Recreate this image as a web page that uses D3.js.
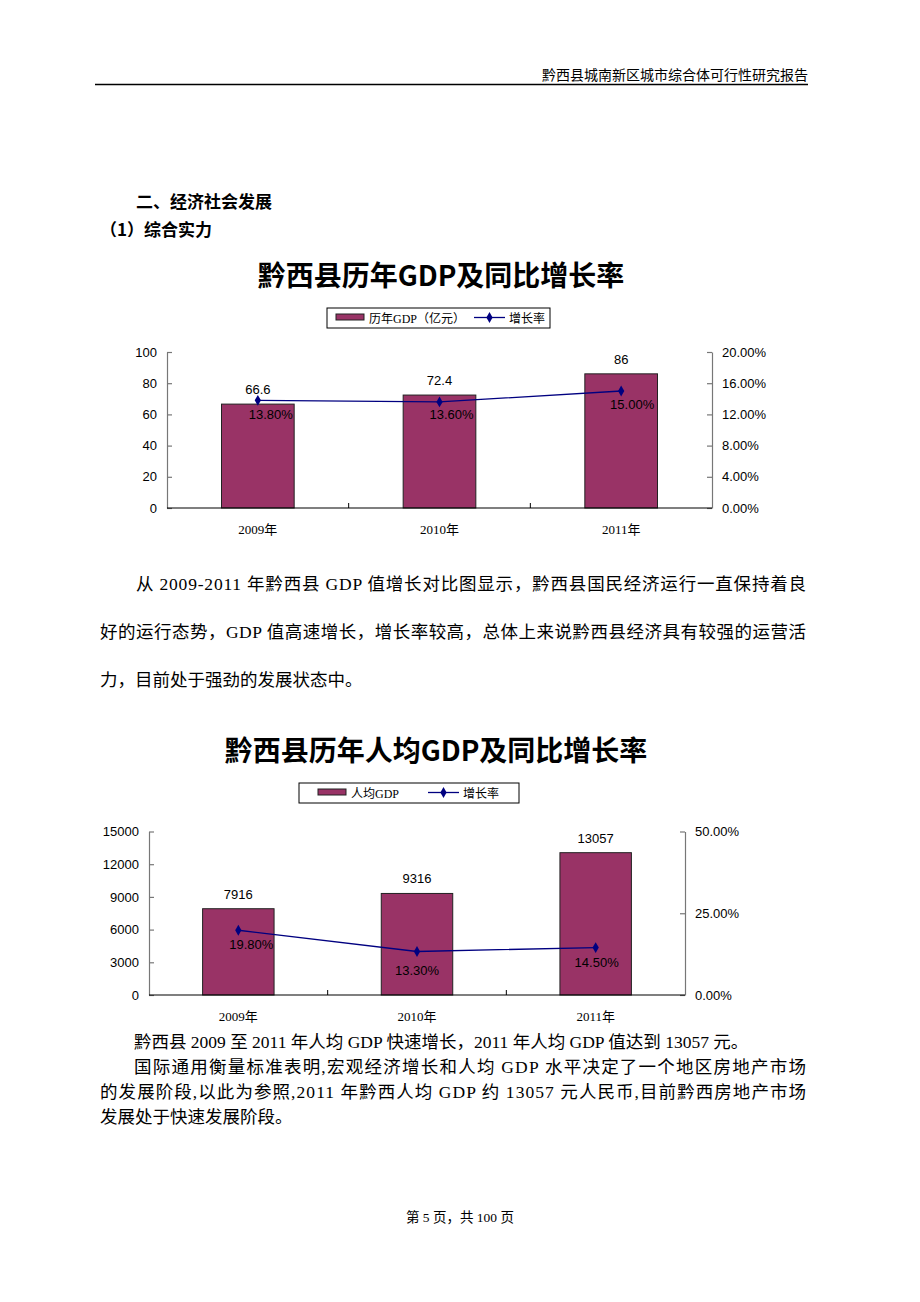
<!DOCTYPE html>
<html><head><meta charset="utf-8">
<script src="https://cdn.jsdelivr.net/npm/d3@7"></script>
<style>body{margin:0;background:#fff} svg{display:block}</style>
</head><body><svg id="page" width="920" height="1302"></svg>
<script>
// ---- data ----
const years = ["2009年", "2010年", "2011年"];
const gdp = [66.6, 72.4, 86];
const gdpRate = [0.138, 0.136, 0.150];
const gdpTicksLeft = [0, 20, 40, 60, 80, 100];
const gdpTicksRight = [0, 0.04, 0.08, 0.12, 0.16, 0.20];
const pcGdp = [7916, 9316, 13057];
const pcRate = [0.198, 0.133, 0.145];
const pcTicksLeft = [0, 3000, 6000, 9000, 12000, 15000];
const pcTicksRight = [0, 0.25, 0.50];

const SERIF = "'Liberation Serif','Noto Sans CJK SC',serif";
const SANS = "'Liberation Sans',Arial,sans-serif";
const CJKB = "'Noto Sans CJK SC',sans-serif";
const BAR = "#993366", LINE = "#000080";

const svg = d3.select("#page");
svg.append("rect").attr("width", 920).attr("height", 1302).attr("fill", "#fff");

// ---- page header ----
svg.append("text").attr("x", 808).attr("y", 80).attr("text-anchor", "end")
  .attr("font-family", SERIF).attr("font-size", 14).text("黔西县城南新区城市综合体可行性研究报告");
svg.append("line").attr("x1", 95).attr("x2", 808).attr("y1", 84.5).attr("y2", 84.5)
  .attr("stroke", "#000").attr("stroke-width", 1.5);

svg.append("text").attr("x", 136).attr("y", 208).attr("font-family", CJKB).attr("font-weight", 700)
  .attr("font-size", 17).text("二、经济社会发展");
svg.append("text").attr("x", 100).attr("y", 236).attr("font-family", CJKB).attr("font-weight", 700)
  .attr("font-size", 17).text("（1）综合实力");

function chart(cfg) {
  const g = svg.append("g");
  g.append("text").attr("x", cfg.titleX).attr("y", cfg.titleY).attr("text-anchor", "middle")
    .attr("font-family", CJKB).attr("font-weight", 700).attr("font-size", 28).text(cfg.title);

  const x = d3.scaleBand().domain(years).range([cfg.x0, cfg.x1]).paddingInner(0.6).paddingOuter(0.3);
  const yL = d3.scaleLinear().domain([0, cfg.leftMax]).range([cfg.yBot, cfg.yTop]);
  const yR = d3.scaleLinear().domain([0, cfg.rightMax]).range([cfg.yBot, cfg.yTop]);

  // bars
  g.selectAll(".bar").data(cfg.values).join("rect")
    .attr("x", (d, i) => x(years[i])).attr("width", x.bandwidth())
    .attr("y", d => yL(d)).attr("height", d => cfg.yBot - yL(d))
    .attr("fill", BAR).attr("stroke", "#222").attr("stroke-width", 1);

  // axes
  const la = g.append("g").attr("transform", `translate(${cfg.x0},0)`)
    .call(d3.axisLeft(yL).tickValues(cfg.ticksL).tickSizeInner(-5).tickSizeOuter(0).tickPadding(10)
      .tickFormat(d3.format("d")));
  const ra = g.append("g").attr("transform", `translate(${cfg.x1},0)`)
    .call(d3.axisRight(yR).tickValues(cfg.ticksR).tickSizeInner(-5).tickSizeOuter(0).tickPadding(10)
      .tickFormat(d3.format(".2%")));
  [la, ra].forEach(a => {
    a.selectAll("path,line").attr("stroke", "#777").attr("stroke-width", 1.2);
    a.selectAll("text").attr("font-family", SANS).attr("font-size", 13).attr("fill", "#000");
  });
  // category axis
  g.append("line").attr("x1", cfg.x0).attr("x2", cfg.x1).attr("y1", cfg.yBot).attr("y2", cfg.yBot)
    .attr("stroke", "#000").attr("stroke-width", 1.2);
  const step = x.step();
  g.selectAll(".ct").data(years.slice(1)).join("line")
    .attr("x1", d => x(d) - step * 0.3).attr("x2", d => x(d) - step * 0.3)
    .attr("y1", cfg.yBot).attr("y2", cfg.yBot - 5).attr("stroke", "#000");
  g.selectAll(".cl").data(years).join("text")
    .attr("x", d => x(d) + x.bandwidth() / 2).attr("y", cfg.yBot + 26).attr("text-anchor", "middle")
    .attr("font-family", SERIF).attr("font-size", 13).text(d => d);

  // value labels
  g.selectAll(".vl").data(cfg.values).join("text")
    .attr("x", (d, i) => x(years[i]) + x.bandwidth() / 2).attr("y", d => yL(d) - 10)
    .attr("text-anchor", "middle").attr("font-family", SANS).attr("font-size", 13).text(d => d);

  // line
  const cx = i => x(years[i]) + x.bandwidth() / 2;
  g.append("path").datum(cfg.rates)
    .attr("d", d3.line().x((d, i) => cx(i)).y(d => yR(d)))
    .attr("fill", "none").attr("stroke", LINE).attr("stroke-width", 1.3);
  g.selectAll(".pt").data(cfg.rates).join("path")
    .attr("transform", (d, i) => `translate(${cx(i)},${yR(d)})`)
    .attr("d", d3.symbol(d3.symbolDiamond, 34)).attr("fill", LINE);
  g.selectAll(".rl").data(cfg.rates).join("text")
    .attr("x", (d, i) => cx(i) + cfg.nudge[i][0]).attr("y", (d, i) => yR(d) + cfg.nudge[i][1])
    .attr("text-anchor", "middle").attr("font-family", SANS).attr("font-size", 13)
    .text(d => d3.format(".2%")(d));

  // legend
  const L = cfg.legend;
  g.append("rect").attr("x", L.x).attr("y", L.y).attr("width", L.w).attr("height", 20)
    .attr("fill", "#fff").attr("stroke", "#000").attr("stroke-width", 1);
  g.append("rect").attr("x", L.x + L.sw).attr("y", L.y + 6).attr("width", 28).attr("height", 6)
    .attr("fill", BAR).attr("stroke", "#222").attr("stroke-width", 1);
  g.append("text").attr("x", L.x + L.sw + 33).attr("y", L.y + 14.5).attr("font-family", SERIF)
    .attr("font-size", 12).text(cfg.legendLabel);
  g.append("line").attr("x1", L.x + L.lx).attr("x2", L.x + L.lx + 31).attr("y1", L.y + 9.5).attr("y2", L.y + 9.5)
    .attr("stroke", LINE).attr("stroke-width", 1.3);
  g.append("path").attr("transform", `translate(${L.x + L.lx + 15.5},${L.y + 9.5})`)
    .attr("d", d3.symbol(d3.symbolDiamond, 34)).attr("fill", LINE);
  g.append("text").attr("x", L.x + L.lx + 35).attr("y", L.y + 14.5).attr("font-family", SERIF)
    .attr("font-size", 12).text("增长率");
}

chart({
  title: "黔西县历年GDP及同比增长率", titleX: 441, titleY: 286,
  x0: 167, x1: 712, yTop: 352, yBot: 508, leftMax: 100, rightMax: 0.20,
  values: gdp, rates: gdpRate, ticksL: gdpTicksLeft, ticksR: gdpTicksRight,
  nudge: [[13, 19], [12, 17], [11, 18]],
  legend: { x: 327, y: 308, w: 223, sw: 9, lx: 147 }, legendLabel: "历年GDP（亿元）"
});
chart({
  title: "黔西县历年人均GDP及同比增长率", titleX: 436, titleY: 761,
  x0: 149, x1: 685, yTop: 831.5, yBot: 995, leftMax: 15000, rightMax: 0.5,
  values: pcGdp, rates: pcRate, ticksL: pcTicksLeft, ticksR: pcTicksRight,
  nudge: [[13, 19], [0, 23], [1, 19]],
  legend: { x: 299, y: 783, w: 220, sw: 19, lx: 129 }, legendLabel: "人均GDP"
});

// ---- body text ----
function line(x, y, str, x2) {
  const t = svg.append("text").attr("x", x).attr("y", y).attr("font-family", SERIF)
    .attr("font-size", 17.5).text(str);
  if (x2) t.attr("textLength", x2 - x).attr("lengthAdjust", "spacing");
}
line(136, 590, "从 2009-2011 年黔西县 GDP 值增长对比图显示，黔西县国民经济运行一直保持着良", 806);
line(100, 638, "好的运行态势，GDP 值高速增长，增长率较高，总体上来说黔西县经济具有较强的运营活", 806);
line(100, 686, "力，目前处于强劲的发展状态中。");

line(134, 1048, "黔西县 2009 至 2011 年人均 GDP 快速增长，2011 年人均 GDP 值达到 13057 元。");
line(134, 1073, "国际通用衡量标准表明,宏观经济增长和人均 GDP 水平决定了一个地区房地产市场", 806);
line(100, 1098, "的发展阶段,以此为参照,2011 年黔西人均 GDP 约 13057 元人民币,目前黔西房地产市场", 806);
line(100, 1123, "发展处于快速发展阶段。");

svg.append("text").attr("x", 460).attr("y", 1222).attr("text-anchor", "middle")
  .attr("font-family", SERIF).attr("font-size", 13.5).text("第 5 页，共 100 页");
</script></body></html>
